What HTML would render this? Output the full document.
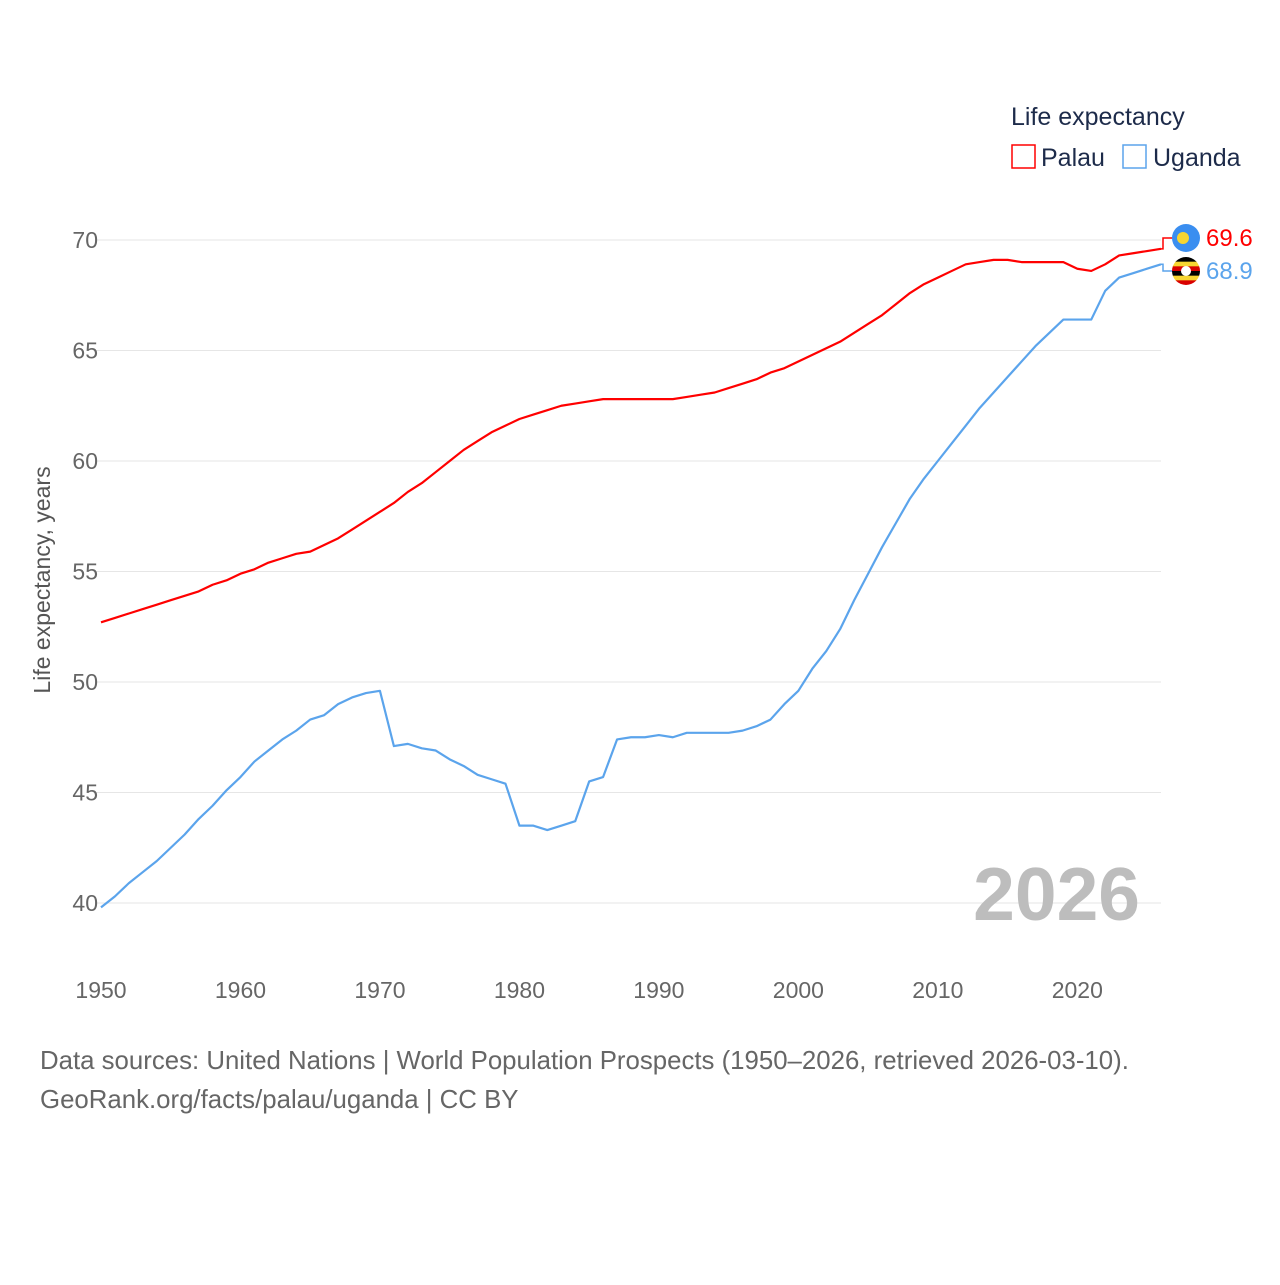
<!DOCTYPE html>
<html><head><meta charset="utf-8"><style>
body{margin:0;background:#fff;font-family:"Liberation Sans",sans-serif}
</style></head><body>
<svg id="c" width="1280" height="1280" xmlns="http://www.w3.org/2000/svg">
<text x="1011" y="125" font-size="25" fill="#1d2b4a">Life expectancy</text>
<g><rect x="1012" y="145" width="23" height="23" fill="none" stroke="#f00" stroke-width="1.5"/><text x="1041" y="166" font-size="25" fill="#1d2b4a">Palau</text></g>
<g><rect x="1123" y="145" width="23" height="23" fill="none" stroke="#5ba4ec" stroke-width="1.5"/><text x="1153" y="166" font-size="25" fill="#1d2b4a">Uganda</text></g>
<g id="grid"></g>
<g id="yt"></g>
<g id="xt"></g>
<text transform="translate(50,580) rotate(-90)" text-anchor="middle" font-size="23" fill="#555">Life expectancy, years</text>
<text x="1140" y="920" text-anchor="end" font-size="75" font-weight="bold" fill="#bdbdbd">2026</text>
<g id="lines"></g>
<text x="40" y="1069" font-size="25.8" fill="#666">Data sources: United Nations | World Population Prospects (1950–2026, retrieved 2026-03-10).</text>
<text x="40" y="1108" font-size="25.8" fill="#666">GeoRank.org/facts/palau/uganda | CC BY</text>
</svg>
<script>
const years=[];for(let y=1950;y<=2026;y++)years.push(y);
const palau=[52.7,52.9,53.1,53.3,53.5,53.7,53.9,54.1,54.4,54.6,54.9,55.1,55.4,55.6,55.8,55.9,56.2,56.5,56.9,57.3,57.7,58.1,58.6,59.0,59.5,60.0,60.5,60.9,61.3,61.6,61.9,62.1,62.3,62.5,62.6,62.7,62.8,62.8,62.8,62.8,62.8,62.8,62.9,63.0,63.1,63.3,63.5,63.7,64.0,64.2,64.5,64.8,65.1,65.4,65.8,66.2,66.6,67.1,67.6,68.0,68.3,68.6,68.9,69.0,69.1,69.1,69.0,69.0,69.0,69.0,68.7,68.6,68.9,69.3,69.4,69.5,69.6];
const uganda=[39.8,40.3,40.9,41.4,41.9,42.5,43.1,43.8,44.4,45.1,45.7,46.4,46.9,47.4,47.8,48.3,48.5,49.0,49.3,49.5,49.6,47.1,47.2,47.0,46.9,46.5,46.2,45.8,45.6,45.4,43.5,43.5,43.3,43.5,43.7,45.5,45.7,47.4,47.5,47.5,47.6,47.5,47.7,47.7,47.7,47.7,47.8,48.0,48.3,49.0,49.6,50.6,51.4,52.4,53.7,54.9,56.1,57.2,58.3,59.2,60.0,60.8,61.6,62.4,63.1,63.8,64.5,65.2,65.8,66.4,66.4,66.4,67.7,68.3,68.5,68.7,68.9];
const yTicks=[40,45,50,55,60,65,70];
const xTicks=[1950,1960,1970,1980,1990,2000,2010,2020];
const X=y=>101+(y-1950)*(1161-101)/76;
const Y=v=>903-(v-40)*22.1;
const NS="http://www.w3.org/2000/svg";
function mk(t,a,p){const e=document.createElementNS(NS,t);for(const k in a)e.setAttribute(k,a[k]);p.appendChild(e);return e;}
const grid=document.getElementById('grid'),yt=document.getElementById('yt'),xt=document.getElementById('xt'),lines=document.getElementById('lines');
yTicks.forEach(v=>{const l=mk('line',{x1:95,x2:1161,y1:Y(v),y2:Y(v),stroke:'#e6e6e6'},grid);


const t=mk('text',{x:98,y:Y(v)+8,'text-anchor':'end','font-size':23,fill:'#666'},yt);t.textContent=v;

});
xTicks.forEach(v=>{const t=mk('text',{x:X(v),y:998,'text-anchor':'middle','font-size':23,fill:'#666'},xt);t.textContent=v;

});
function series(d,c,name){const p=mk('polyline',{points:d.map((v,i)=>X(years[i])+','+Y(v)).join(' '),fill:'none',stroke:c,'stroke-width':2.2,'stroke-linejoin':'round'},lines);

}
series(uganda,'#5ba4ec','uganda-line');
series(palau,'#f00','palau-line');
const pl=palau[palau.length-1],ug=uganda[uganda.length-1];
const g=mk('g',{},lines);


mk('path',{d:`M${X(2026)},${Y(pl)} h2 V238 h10`,fill:'none',stroke:'#f00','stroke-width':1.5},g);
mk('path',{d:`M${X(2026)},${Y(ug)} h2 V271 h10`,fill:'none',stroke:'#5ba4ec','stroke-width':1.5},g);
mk('circle',{cx:1186,cy:238,r:14,fill:'#3a8ef0'},g);
mk('circle',{cx:1183,cy:238,r:6,fill:'#f7d531'},g);
const cp=mk('clipPath',{id:'ug'},g);mk('circle',{cx:1186,cy:271,r:14},cp);
const fg=mk('g',{'clip-path':'url(#ug)'},g);
['#000','#f7d531','#d90000','#000','#f7d531','#d90000'].forEach((c,i)=>mk('rect',{x:1172,y:257+i*28/6,width:28,height:28/6+0.5,fill:c},fg));
mk('circle',{cx:1186,cy:271,r:5,fill:'#fff'},g);
const t1=mk('text',{x:1206,y:246,'font-size':24,fill:'#f00'},g);t1.textContent=pl.toFixed(1);
const t2=mk('text',{x:1206,y:279,'font-size':24,fill:'#5ba4ec'},g);t2.textContent=ug.toFixed(1);
</script>
</body></html>
